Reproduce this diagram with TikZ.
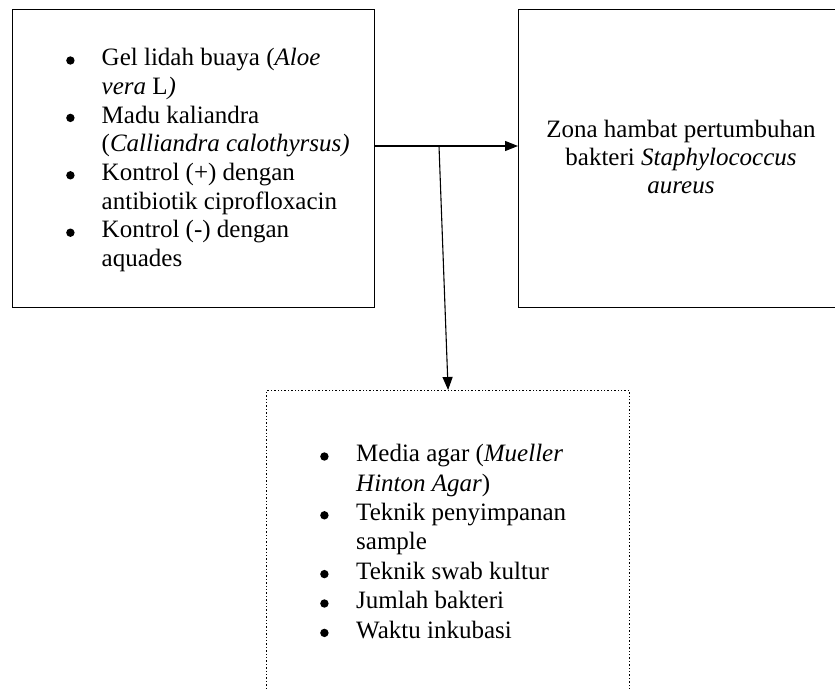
\documentclass[tikz,border=0pt]{standalone}
\usepackage{fontspec}
\setmainfont{Liberation Serif}
\usetikzlibrary{arrows.meta}
\tikzset{
  box/.style={draw, line width=1.4pt, inner sep=0pt, anchor=north west},
  txt/.style={inner sep=0pt, anchor=base west},
  conn/.style={line width=1.1pt},
  arr/.style={conn, -{Triangle[length=13pt,width=10pt]}},
}
\newcommand{\bodyfont}{\fontsize{25}{28.7}\selectfont}
\newcommand{\blt}{\tikz[baseline=0pt,x=1pt,y=1pt]\fill (4.2,5.2) circle (4.2);}
\begin{document}
\begin{tikzpicture}[x=1pt,y=-1pt]
\clip (0,0) rectangle (835,688);
\fill[white] (0,0) rectangle (835,688);
% boxes
\node[box, minimum width=362pt, minimum height=298pt] (ind) at (12,9) {};
\node[box, minimum width=340pt, minimum height=298pt] (res) at (518,9) {};
\node[box, dotted, line width=1.2pt, minimum width=363pt, minimum height=320pt] (ctrl) at (266,390) {};
% texts
\node[txt] (indtxt) at (66,65.7) {\bodyfont
\begin{tabular}[t]{@{}p{35.5pt}@{}l@{}}
\blt & Gel lidah buaya (\textit{Aloe}\\
 & \textit{vera} L\textit{)}\\
\blt & Madu kaliandra\\
 & (\textit{Calliandra calothyrsus)}\\
\blt & Kontrol (+) dengan\\
 & antibiotik ciprofloxacin\\
\blt & Kontrol (-) dengan\\
 & aquades
\end{tabular}};
\node[inner sep=0pt, anchor=base] (restxt) at (681,137.3) {\fontsize{25}{28.3}\selectfont
\begin{tabular}[t]{@{}c@{}}
Zona hambat pertumbuhan\\
bakteri \textit{Staphylococcus}\\
\textit{aureus}
\end{tabular}};
\node[txt] (ctrltxt) at (320,461.7) {\fontsize{25}{29.4}\selectfont
\begin{tabular}[t]{@{}p{36pt}@{}l@{}}
\blt & Media agar (\textit{Mueller}\\
 & \textit{Hinton Agar})\\
\blt & Teknik penyimpanan\\
 & sample\\
\blt & Teknik swab kultur\\
\blt & Jumlah bakteri\\
\blt & Waktu inkubasi
\end{tabular}};
% connectors
\coordinate (j) at (439,146);
\draw[arr] (ind.east |- j) -- (res.west |- j);
\draw[arr] (j) -- (ctrl.north);
\end{tikzpicture}
\end{document}
